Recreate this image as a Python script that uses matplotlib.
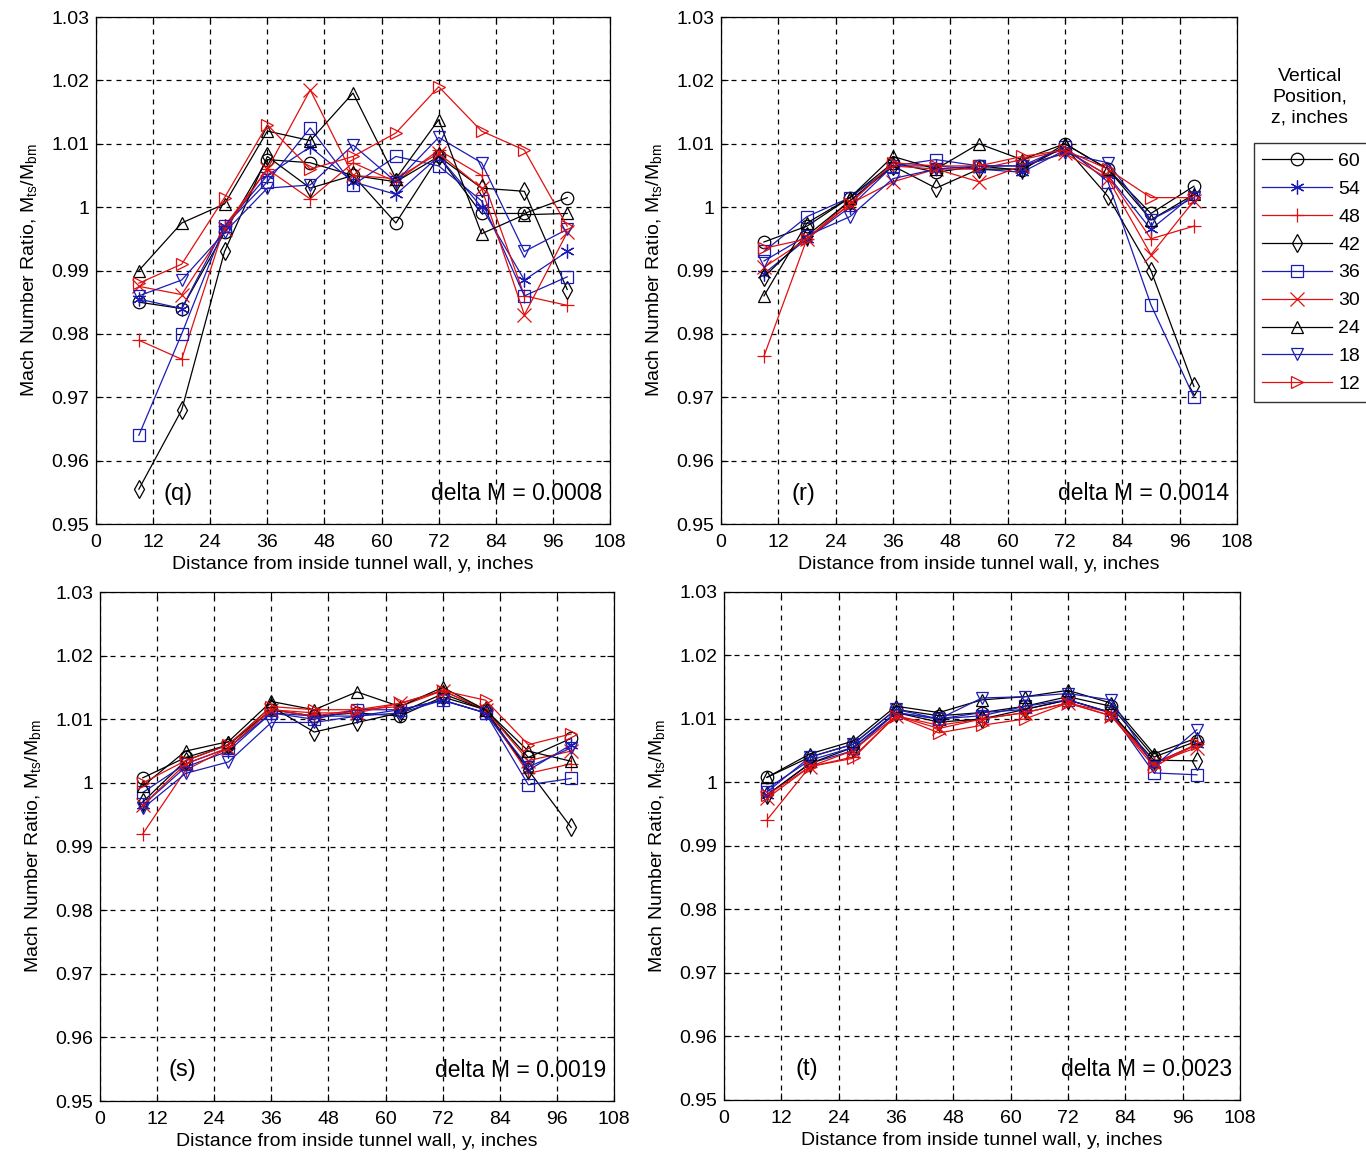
import numpy as np
import matplotlib
matplotlib.use('Agg')
import matplotlib.pyplot as plt
from matplotlib.lines import Line2D

plt.rcParams['font.family'] = ['Liberation Sans', 'DejaVu Sans']

# distance from wall (inches) for the 11 traverse points
y_in = [9, 18, 27, 36, 45, 54, 63, 72, 81, 90, 99]

# vertical positions z (inches) and their plot styles
z_pos = [60, 54, 48, 42, 36, 30, 24, 18, 12]
ASTER = (6, 2, 0)
mk = ['o', ASTER, '+', 'd', 's', 'x', '^', 'v', '>']
col = ['k', '#1c1cb4', '#e01010', 'k', '#1c1cb4', '#e01010', 'k', '#1c1cb4', '#e01010']

# Mach number ratio, one row per z, panel (q)
q_vals = [
    [0.985, 0.984, 0.996, 1.0075, 1.007, 1.005, 0.9975, 1.008, 0.999, 0.999, 1.0015],
    [0.9855, 0.984, 0.997, 1.005, 1.0095, 1.004, 1.002, 1.008, 1.000, 0.9885, 0.993],
    [0.979, 0.976, 0.997, 1.006, 1.0013, 1.007, 1.004, 1.009, 1.005, 0.986, 0.9845],
    [0.9555, 0.968, 0.993, 1.008, 1.003, 1.005, 1.004, 1.008, 1.003, 1.0025, 0.987],
    [0.964, 0.980, 0.997, 1.004, 1.0125, 1.0035, 1.008, 1.0065, 1.001, 0.986, 0.989],
    [0.9875, 0.9862, 0.9965, 1.006, 1.0185, 1.005, 1.0045, 1.0085, 1.003, 0.983, 0.996],
    [0.990, 0.9975, 1.0005, 1.012, 1.0105, 1.018, 1.0045, 1.0138, 0.9958, 0.9988, 0.999],
    [0.986, 0.9885, 0.996, 1.003, 1.0035, 1.0098, 1.004, 1.011, 1.007, 0.993, 0.9965],
    [0.988, 0.991, 1.0015, 1.013, 1.006, 1.008, 1.0117, 1.019, 1.012, 1.009, 0.997],
]

# panel (r)
r_vals = [
    [0.9945, 0.997, 1.0015, 1.007, 1.0055, 1.0065, 1.0058, 1.010, 1.006, 0.999, 1.0033],
    [0.9895, 0.995, 1.000, 1.0065, 1.0065, 1.006, 1.0055, 1.009, 1.005, 0.9965, 1.002],
    [0.9765, 0.995, 1.001, 1.0065, 1.006, 1.006, 1.0075, 1.009, 1.005, 0.995, 0.997],
    [0.989, 0.9955, 1.001, 1.0065, 1.003, 1.006, 1.006, 1.0095, 1.0017, 0.990, 0.9717],
    [0.993, 0.9985, 1.0015, 1.0065, 1.0075, 1.0065, 1.0065, 1.0095, 1.004, 0.9846, 0.970],
    [0.9905, 0.995, 1.0005, 1.004, 1.006, 1.004, 1.0065, 1.0085, 1.0045, 0.9925, 1.001],
    [0.986, 0.9975, 1.0015, 1.008, 1.006, 1.010, 1.0075, 1.010, 1.006, 0.998, 1.002],
    [0.9915, 0.9955, 0.9985, 1.0045, 1.006, 1.0065, 1.0065, 1.0085, 1.007, 0.998, 1.0015],
    [0.9935, 0.995, 1.0005, 1.007, 1.0065, 1.0065, 1.008, 1.009, 1.006, 1.0015, 1.0015],
]

# panel (s)
s_vals = [
    [1.0008, 1.004, 1.006, 1.0115, 1.0105, 1.011, 1.0105, 1.0135, 1.0115, 1.004, 1.007],
    [0.9965, 1.0025, 1.005, 1.011, 1.0105, 1.0105, 1.0115, 1.013, 1.011, 1.002, 1.006],
    [0.992, 1.002, 1.0055, 1.0115, 1.0105, 1.0115, 1.012, 1.0145, 1.0115, 1.0015, 1.003],
    [0.997, 1.0035, 1.006, 1.012, 1.008, 1.0095, 1.011, 1.014, 1.0115, 1.002, 0.993],
    [0.9985, 1.003, 1.0055, 1.011, 1.010, 1.0115, 1.0115, 1.013, 1.011, 0.9997, 1.0007],
    [0.9965, 1.003, 1.0055, 1.0115, 1.011, 1.011, 1.0125, 1.0145, 1.0115, 1.0035, 1.005],
    [0.9995, 1.005, 1.0065, 1.0128, 1.0115, 1.0143, 1.012, 1.015, 1.0115, 1.005, 1.0034],
    [0.996, 1.0015, 1.0033, 1.0095, 1.0095, 1.0105, 1.011, 1.013, 1.011, 1.0025, 1.0055],
    [1.000, 1.0035, 1.006, 1.012, 1.0115, 1.0115, 1.0125, 1.0145, 1.013, 1.006, 1.0077],
]

# panel (t)
t_vals = [
    [1.0008, 1.004, 1.006, 1.0115, 1.0105, 1.011, 1.012, 1.0135, 1.012, 1.004, 1.0065],
    [0.998, 1.003, 1.005, 1.011, 1.010, 1.011, 1.0115, 1.013, 1.011, 1.003, 1.006],
    [0.9941, 1.0025, 1.004, 1.0105, 1.009, 1.010, 1.011, 1.0125, 1.011, 1.003, 1.006],
    [0.998, 1.003, 1.0055, 1.011, 1.0095, 1.010, 1.0115, 1.013, 1.011, 1.0035, 1.0034],
    [0.999, 1.0035, 1.0055, 1.011, 1.010, 1.0105, 1.012, 1.013, 1.011, 1.0015, 1.0012],
    [0.9975, 1.0025, 1.005, 1.0105, 1.0085, 1.010, 1.011, 1.0125, 1.0105, 1.003, 1.0055],
    [1.0008, 1.0045, 1.0065, 1.012, 1.011, 1.013, 1.0135, 1.0145, 1.0125, 1.0045, 1.007],
    [0.9985, 1.004, 1.006, 1.0115, 1.010, 1.0133, 1.0135, 1.014, 1.013, 1.0025, 1.0083],
    [0.998, 1.0025, 1.0038, 1.0105, 1.0078, 1.009, 1.010, 1.0125, 1.0105, 1.0025, 1.006],
]

panel_tags = ['(q)', '(r)', '(s)', '(t)']
delta_txt = ['delta M = 0.0008', 'delta M = 0.0014', 'delta M = 0.0019', 'delta M = 0.0023']
all_vals = [q_vals, r_vals, s_vals, t_vals]

fig = plt.figure(figsize=(13.66, 11.57), dpi=100)
boxes = [
    [0.0703, 0.5471, 0.3763, 0.4382],
    [0.5278, 0.5471, 0.3777, 0.4382],
    [0.0732, 0.0484, 0.3763, 0.4399],
    [0.5300, 0.0493, 0.3777, 0.4391],
]


def msize(m):
    return 10 if m in ('+', 'x', ASTER) else 9


for b, vals, tag, dt in zip(boxes, all_vals, panel_tags, delta_txt):
    ax = fig.add_axes(b)
    for row, m, c, z in zip(vals, mk, col, z_pos):
        ax.plot(y_in, row, color=c, marker=m, mfc='none', mec=c,
                ms=msize(m), lw=0.9, mew=0.9, label=str(z))
    ax.set_xlim(0, 108)
    ax.set_ylim(0.95, 1.03)
    ax.set_xticks(np.arange(0, 109, 12))
    ax.set_yticks(np.arange(0.95, 1.031, 0.01))
    ax.set_yticklabels(['0.95', '0.96', '0.97', '0.98', '0.99', '1', '1.01', '1.02', '1.03'])
    ax.grid(True, color='k', ls=(0, (4, 4)), lw=0.9)
    ax.tick_params(direction='in', top=True, right=True, labelsize=14, length=5)
    ax.tick_params(axis='x', pad=7)
    ax.tick_params(axis='y', pad=5)
    for sp in ax.spines.values():
        sp.set_linewidth(0.9)
    ax.set_xlabel('Distance from inside tunnel wall, y, inches', fontsize=14, labelpad=4)
    ax.set_ylabel('Mach Number Ratio, M$_{\\mathregular{ts}}$/M$_{\\mathregular{bm}}$',
                  fontsize=14, labelpad=8)
    ax.text(0.16, 0.06, tag, transform=ax.transAxes, fontsize=17, ha='center', va='center')
    ax.text(0.985, 0.06, dt, transform=ax.transAxes, fontsize=16.5, ha='right', va='center')

handles = [Line2D([], [], color=c, marker=m, mfc='none', mec=c, ms=msize(m), lw=0.9, mew=0.9)
           for m, c in zip(mk, col)]
fig.legend(handles, [str(z) for z in z_pos], loc='upper right',
           bbox_to_anchor=(1.002, 0.876), fontsize=14, handlelength=3.6,
           frameon=True, fancybox=False, edgecolor='k', borderpad=0.45,
           labelspacing=0.53, handletextpad=0.3, borderaxespad=0)
fig.text(0.959, 0.916, 'Vertical\nPosition,\nz, inches', ha='center', va='center',
         fontsize=14, linespacing=1.3)

fig.savefig('out.png', dpi=100)
